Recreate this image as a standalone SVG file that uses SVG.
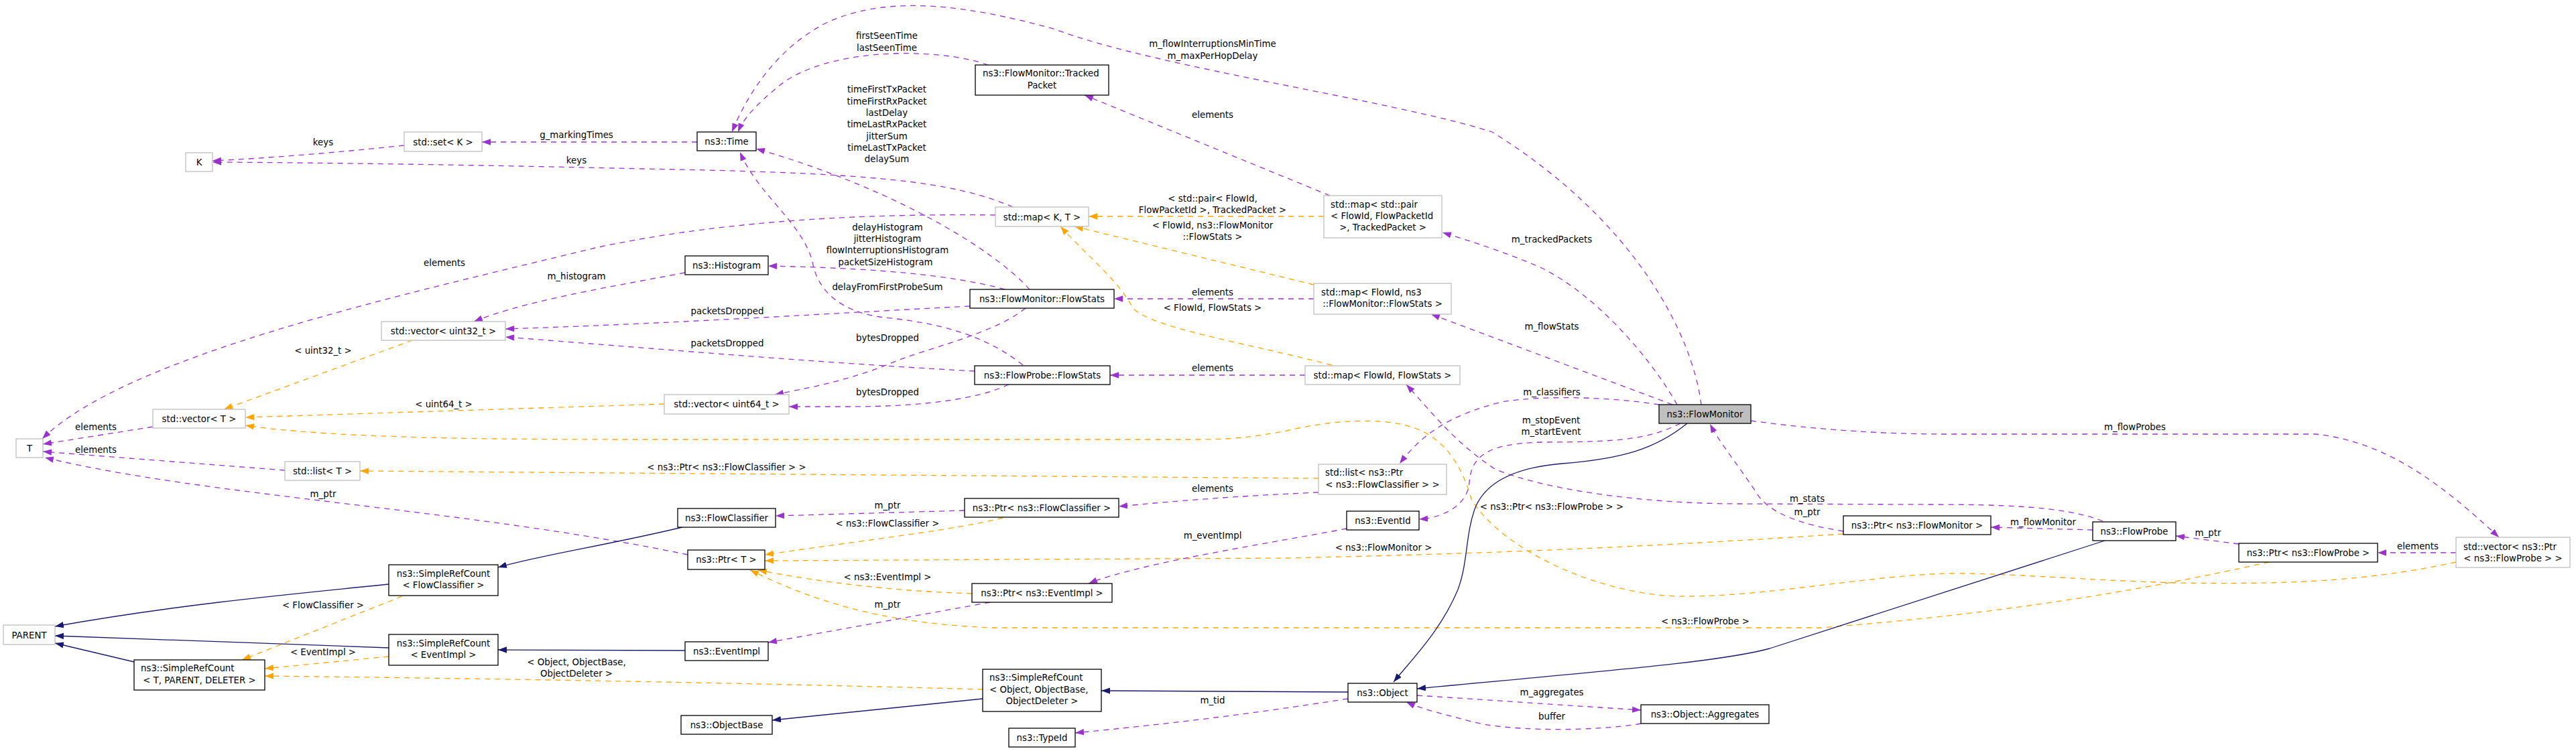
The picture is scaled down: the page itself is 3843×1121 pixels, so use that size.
<svg xmlns="http://www.w3.org/2000/svg" width="3843" height="1121" viewBox="0 0 3843 1121">
<style>
text{font-family:"DejaVu Sans","Liberation Sans",sans-serif;font-size:13.33px;fill:#000}
.node rect{fill:#fff;stroke:#000;stroke-width:1.3}
.node.gr rect{stroke:#bfbfbf}
.node.main rect{fill:#bfbfbf}
.c{text-anchor:middle}
.s{text-anchor:start}
.e{fill:none;stroke-width:1.3}
.u{stroke:#9a32cd;stroke-dasharray:8,7;marker-end:url(#aU)}
.t{stroke:#ffa500;stroke-dasharray:8,7;marker-end:url(#aT)}
.i{stroke:#191970;marker-end:url(#aI)}
.lbl text{text-anchor:middle}
</style>
<defs>
<marker id="aU" markerUnits="userSpaceOnUse" markerWidth="14" markerHeight="10" refX="13" refY="4.7" orient="auto"><path d="M0,0 L13,4.7 L0,9.4 z" fill="#9a32cd"/></marker>
<marker id="aT" markerUnits="userSpaceOnUse" markerWidth="14" markerHeight="10" refX="13" refY="4.7" orient="auto"><path d="M0,0 L13,4.7 L0,9.4 z" fill="#ffa500"/></marker>
<marker id="aI" markerUnits="userSpaceOnUse" markerWidth="14" markerHeight="10" refX="13" refY="4.7" orient="auto"><path d="M0,0 L13,4.7 L0,9.4 z" fill="#191970"/></marker>
</defs>
<rect width="3843" height="1121" fill="#fff"/>

<g id="connectors">
<path class="e u" d="M603,217 C500,228 400,236 317,240"/>
<path class="e u" d="M1040,212 L719,212"/>
<path class="e u" d="M1511,309 C1420,270 1300,258 960,252 C700,246 500,243 317,242"/>
<path class="e u" d="M1485,321 C1250,318 1050,335 888,370 C600,440 190,530 63,655"/>
<path class="e u" d="M1474,97 C1400,70 1230,70 1160,130 C1130,155 1110,175 1101,197"/>
<path class="e u" d="M2538,604 C2525,500 2440,330 2226,197 C2080,150 1720,100 1572,43 C1450,10 1330,-10 1235,33 C1160,70 1115,140 1092,197"/>
<path class="e u" d="M1984,292 L1618,142"/>
<path class="e t" d="M1975,323 L1624,323"/>
<path class="e t" d="M1960,425 L1603,338"/>
<path class="e t" d="M1987,545 C1850,510 1720,490 1690,460 C1670,420 1620,380 1582,338"/>
<path class="e u" d="M1960,446 L1662,446"/>
<path class="e u" d="M1947,560 L1656,560"/>
<path class="e u" d="M1536,432 C1480,370 1330,280 1128,222"/>
<path class="e u" d="M1526,545 C1470,500 1400,482 1320,474 C1250,466 1218,430 1212,390 C1195,330 1130,290 1104,227"/>
<path class="e u" d="M1499,432 C1420,410 1300,400 1146,397"/>
<path class="e u" d="M1022,407 C900,430 780,450 707,480"/>
<path class="e u" d="M1447,457 C1200,470 1000,483 754,491"/>
<path class="e u" d="M1454,554 C1200,540 1000,522 754,503"/>
<path class="e u" d="M1530,460 C1480,500 1380,520 1327,543 C1260,570 1200,580 1156,589"/>
<path class="e u" d="M1505,574 C1460,595 1380,607 1266,607 L1177,607"/>
<path class="e t" d="M615,508 L334,611"/>
<path class="e t" d="M991,603 L366,623"/>
<path class="e t" d="M3664,839 C3520,870 3400,872 3247,870 C3100,866 2960,852 2880,857 C2750,865 2620,892 2500,890 C2380,885 2240,820 2195,745 C2180,690 2150,650 2104,637 C2060,622 1980,628 1920,643 C1870,652 1840,656 1790,656 L960,656 C750,656 500,655 366,635"/>
<path class="e u" d="M425,702 L64,674"/>
<path class="e u" d="M228,637 L64,663"/>
<path class="e u" d="M1026,828 C700,760 300,740 67,683"/>
<path class="e t" d="M1967,714 L537,703"/>
<path class="e u" d="M1967,735 C1850,740 1750,748 1669,756"/>
<path class="e u" d="M1439,762 L1157,770"/>
<path class="e t" d="M1496,773 C1430,790 1300,805 1141,828"/>
<path class="e t" d="M2750,797 C2400,820 2183,827 1920,833 L1141,837"/>
<path class="e t" d="M1450,886 C1330,882 1230,870 1131,851"/>
<path class="e t" d="M3385,839 C3200,880 3000,915 2716,937 L1480,937 C1300,930 1200,890 1119,851"/>
<path class="e u" d="M1477,899 L1146,959"/>
<path class="e u" d="M2009,789 C1900,810 1700,840 1624,871"/>
<path class="e u" d="M2507,632 C2460,655 2420,660 2300,660 C2220,662 2195,680 2192,720 C2190,750 2160,772 2117,775"/>
<path class="e u" d="M2475,604 C2400,592 2300,590 2240,600 C2160,620 2120,650 2088,692"/>
<path class="e u" d="M2495,604 L2135,469"/>
<path class="e u" d="M2502,604 C2460,530 2380,440 2300,400 C2250,378 2200,362 2152,347"/>
<path class="e u" d="M2612,628 C2700,640 2800,648 2900,648 L3455,648 C3560,660 3640,720 3728,802"/>
<path class="e u" d="M3137,778 C3080,755 2980,753 2880,753 L2593,752 C2450,752 2300,730 2230,700 C2170,660 2140,620 2098,574"/>
<path class="e u" d="M2750,793 C2700,785 2640,770 2620,735 C2590,690 2565,660 2551,633"/>
<path class="e u" d="M3122,791 L2970,787"/>
<path class="e u" d="M3340,812 L3246,800"/>
<path class="e u" d="M3664,825 L3547,825"/>
<path class="e i" d="M2517,632 C2470,670 2420,685 2330,692 C2260,698 2215,720 2200,760 C2186,800 2190,840 2175,880 C2150,940 2110,980 2079,1018"/>
<path class="e i" d="M3140,807 L2640,968 C2560,990 2350,1005 2114,1028"/>
<path class="e i" d="M2011,1033 L1643,1031"/>
<path class="e i" d="M1466,1043 L1152,1075"/>
<path class="e t" d="M1466,1029 C1200,1022 900,1015 395,1009"/>
<path class="e i" d="M1018,787 C900,815 800,830 743,847"/>
<path class="e i" d="M1022,971 L743,970"/>
<path class="e i" d="M580,872 C400,890 250,905 82,935"/>
<path class="e i" d="M580,967 L82,949"/>
<path class="e i" d="M200,988 L82,960"/>
<path class="e t" d="M600,890 L361,985"/>
<path class="e t" d="M580,980 L395,998"/>
<path class="e u" d="M2011,1043 C1900,1060 1800,1075 1604,1094"/>
<path class="e u" d="M2114,1038 L2448,1060"/>
<path class="e u" d="M2448,1080 C2380,1092 2250,1092 2195,1077 C2150,1065 2120,1058 2098,1048"/>
<g class="lbl">
<text x="482" y="217">keys</text>
<text x="860" y="206">g_markingTimes</text>
<text x="860" y="244">keys</text>
<text x="663" y="397">elements</text>
<text x="1323" y="58">firstSeenTime</text>
<text x="1323" y="76">lastSeenTime</text>
<text x="1809" y="70">m_flowInterruptionsMinTime</text>
<text x="1809" y="88">m_maxPerHopDelay</text>
<text x="1809" y="176">elements</text>
<text x="1809" y="301">&lt; std::pair&lt; FlowId,</text>
<text x="1809" y="318">FlowPacketId &gt;, TrackedPacket &gt;</text>
<text x="1809" y="341">&lt; FlowId, ns3::FlowMonitor</text>
<text x="1809" y="358">::FlowStats &gt;</text>
<text x="1809" y="464">&lt; FlowId, FlowStats &gt;</text>
<text x="1809" y="441">elements</text>
<text x="1809" y="554">elements</text>
<text x="1323" y="138">timeFirstTxPacket</text>
<text x="1323" y="156">timeFirstRxPacket</text>
<text x="1323" y="173">lastDelay</text>
<text x="1323" y="190">timeLastRxPacket</text>
<text x="1323" y="208">jitterSum</text>
<text x="1323" y="225">timeLastTxPacket</text>
<text x="1323" y="242">delaySum</text>
<text x="1324" y="433">delayFromFirstProbeSum</text>
<text x="1324" y="344">delayHistogram</text>
<text x="1324" y="361">jitterHistogram</text>
<text x="1324" y="378">flowInterruptionsHistogram</text>
<text x="1321" y="396">packetSizeHistogram</text>
<text x="860" y="417">m_histogram</text>
<text x="1085" y="469">packetsDropped</text>
<text x="1085" y="517">packetsDropped</text>
<text x="1324" y="509">bytesDropped</text>
<text x="1324" y="590">bytesDropped</text>
<text x="482" y="528">&lt; uint32_t &gt;</text>
<text x="662" y="608">&lt; uint64_t &gt;</text>
<text x="2315" y="761">&lt; ns3::Ptr&lt; ns3::FlowProbe &gt; &gt;</text>
<text x="143" y="676">elements</text>
<text x="143" y="642">elements</text>
<text x="482" y="742">m_ptr</text>
<text x="1084" y="702">&lt; ns3::Ptr&lt; ns3::FlowClassifier &gt; &gt;</text>
<text x="1809" y="734">elements</text>
<text x="1324" y="759">m_ptr</text>
<text x="1324" y="786">&lt; ns3::FlowClassifier &gt;</text>
<text x="2064" y="822">&lt; ns3::FlowMonitor &gt;</text>
<text x="1324" y="866">&lt; ns3::EventImpl &gt;</text>
<text x="2544" y="932">&lt; ns3::FlowProbe &gt;</text>
<text x="1324" y="907">m_ptr</text>
<text x="1809" y="804">m_eventImpl</text>
<text x="2314" y="632">m_stopEvent</text>
<text x="2314" y="649">m_startEvent</text>
<text x="2315" y="590">m_classifiers</text>
<text x="2315" y="492">m_flowStats</text>
<text x="2315" y="362">m_trackedPackets</text>
<text x="3185" y="642">m_flowProbes</text>
<text x="2696" y="749">m_stats</text>
<text x="2696" y="769">m_ptr</text>
<text x="3048" y="784">m_flowMonitor</text>
<text x="3294" y="800">m_ptr</text>
<text x="3607" y="820">elements</text>
<text x="860" y="993">&lt; Object, ObjectBase,</text>
<text x="860" y="1010">ObjectDeleter &gt;</text>
<text x="482" y="908">&lt; FlowClassifier &gt;</text>
<text x="482" y="978">&lt; EventImpl &gt;</text>
<text x="1809" y="1050">m_tid</text>
<text x="2315" y="1038">m_aggregates</text>
<text x="2315" y="1074">buffer</text>
</g>
</g>

<g id="n_flowmonitor" class="node main"><rect x="2475" y="604" width="137" height="28"/><text class="c" x="2543.5" y="623">ns3::FlowMonitor</text></g>
<g id="n_time" class="node"><rect x="1040" y="197" width="88" height="28"/><text class="c" x="1084" y="216">ns3::Time</text></g>
<g id="n_trackedpacket" class="node"><rect x="1455" y="97" width="199" height="45"/><text class="s" x="1466" y="114">ns3::FlowMonitor::Tracked</text><text class="c" x="1554.5" y="132">Packet</text></g>
<g id="n_mapKT" class="node gr"><rect x="1485" y="309" width="139" height="29"/><text class="c" x="1554.5" y="328.5">std::map&lt; K, T &gt;</text></g>
<g id="n_setK" class="node gr"><rect x="603" y="197" width="116" height="29"/><text class="c" x="661" y="216.5">std::set&lt; K &gt;</text></g>
<g id="n_K" class="node gr"><rect x="277" y="228" width="40" height="28"/><text class="c" x="297" y="247">K</text></g>
<g id="n_T" class="node gr"><rect x="24" y="655" width="40" height="28"/><text class="c" x="44" y="674">T</text></g>
<g id="n_vec32" class="node gr"><rect x="569" y="480" width="185" height="28"/><text class="c" x="661.5" y="499">std::vector&lt; uint32_t &gt;</text></g>
<g id="n_vecT" class="node gr"><rect x="228" y="611" width="138" height="28"/><text class="c" x="297" y="630">std::vector&lt; T &gt;</text></g>
<g id="n_listT" class="node gr"><rect x="425" y="689" width="112" height="28"/><text class="c" x="481" y="708">std::list&lt; T &gt;</text></g>
<g id="n_histogram" class="node"><rect x="1022" y="382" width="124" height="28"/><text class="c" x="1084" y="401">ns3::Histogram</text></g>
<g id="n_fmflowstats" class="node"><rect x="1447" y="432" width="215" height="28"/><text class="c" x="1554.5" y="451">ns3::FlowMonitor::FlowStats</text></g>
<g id="n_fpflowstats" class="node"><rect x="1454" y="546" width="202" height="28"/><text class="c" x="1555" y="565">ns3::FlowProbe::FlowStats</text></g>
<g id="n_vec64" class="node gr"><rect x="991" y="589" width="186" height="29"/><text class="c" x="1084" y="608">std::vector&lt; uint64_t &gt;</text></g>
<g id="n_mappair" class="node gr"><rect x="1975" y="292" width="176" height="63"/><text class="s" x="1985" y="310">std::map&lt; std::pair</text><text class="s" x="1985" y="327">&lt; FlowId, FlowPacketId</text><text class="c" x="2063" y="344">&gt;, TrackedPacket &gt;</text></g>
<g id="n_mapfmfs" class="node gr"><rect x="1960" y="423" width="205" height="46"/><text class="s" x="1971" y="441">std::map&lt; FlowId, ns3</text><text class="c" x="2062.5" y="458">::FlowMonitor::FlowStats &gt;</text></g>
<g id="n_mapfs" class="node gr"><rect x="1947" y="546" width="231" height="28"/><text class="c" x="2062.5" y="565">std::map&lt; FlowId, FlowStats &gt;</text></g>
<g id="n_listptrfc" class="node gr"><rect x="1967" y="693" width="191" height="45"/><text class="s" x="1977" y="710">std::list&lt; ns3::Ptr</text><text class="c" x="2062.5" y="728">&lt; ns3::FlowClassifier &gt; &gt;</text></g>
<g id="n_parent" class="node gr"><rect x="5" y="933" width="77" height="29"/><text class="c" x="43.5" y="952.5">PARENT</text></g>
<g id="n_srcfc" class="node"><rect x="580" y="843" width="163" height="46"/><text class="c" x="661.5" y="861">ns3::SimpleRefCount</text><text class="c" x="661.5" y="878">&lt; FlowClassifier &gt;</text></g>
<g id="n_srcei" class="node"><rect x="580" y="947" width="163" height="46"/><text class="c" x="661.5" y="965">ns3::SimpleRefCount</text><text class="c" x="661.5" y="982">&lt; EventImpl &gt;</text></g>
<g id="n_srctpd" class="node"><rect x="200" y="985" width="195" height="45"/><text class="s" x="210" y="1002">ns3::SimpleRefCount</text><text class="c" x="297.5" y="1020">&lt; T, PARENT, DELETER &gt;</text></g>
<g id="n_flowclassifier" class="node"><rect x="1011" y="759" width="146" height="28"/><text class="c" x="1084" y="778">ns3::FlowClassifier</text></g>
<g id="n_ptrfc" class="node"><rect x="1439" y="744" width="230" height="28"/><text class="c" x="1554" y="763">ns3::Ptr&lt; ns3::FlowClassifier &gt;</text></g>
<g id="n_ptrT" class="node"><rect x="1026" y="821" width="115" height="29"/><text class="c" x="1083.5" y="840">ns3::Ptr&lt; T &gt;</text></g>
<g id="n_ptrei" class="node"><rect x="1450" y="871" width="209" height="28"/><text class="c" x="1554.5" y="890">ns3::Ptr&lt; ns3::EventImpl &gt;</text></g>
<g id="n_eventimpl" class="node"><rect x="1022" y="958" width="124" height="28"/><text class="c" x="1084" y="977">ns3::EventImpl</text></g>
<g id="n_srcobj" class="node"><rect x="1466" y="999" width="177" height="63"/><text class="s" x="1476" y="1016">ns3::SimpleRefCount</text><text class="s" x="1476" y="1034">&lt; Object, ObjectBase,</text><text class="c" x="1554.5" y="1051">ObjectDeleter &gt;</text></g>
<g id="n_objectbase" class="node"><rect x="1016" y="1068" width="136" height="28"/><text class="c" x="1084" y="1087">ns3::ObjectBase</text></g>
<g id="n_typeid" class="node"><rect x="1505" y="1087" width="99" height="28"/><text class="c" x="1554.5" y="1106">ns3::TypeId</text></g>
<g id="n_eventid" class="node"><rect x="2009" y="763" width="108" height="28"/><text class="c" x="2063" y="782">ns3::EventId</text></g>
<g id="n_object" class="node"><rect x="2011" y="1020" width="103" height="28"/><text class="c" x="2062.5" y="1039">ns3::Object</text></g>
<g id="n_aggregates" class="node"><rect x="2448" y="1052" width="191" height="28"/><text class="c" x="2543.5" y="1071">ns3::Object::Aggregates</text></g>
<g id="n_ptrfm" class="node"><rect x="2750" y="770" width="220" height="28"/><text class="c" x="2860" y="789">ns3::Ptr&lt; ns3::FlowMonitor &gt;</text></g>
<g id="n_flowprobe" class="node"><rect x="3122" y="779" width="124" height="28"/><text class="c" x="3184" y="798">ns3::FlowProbe</text></g>
<g id="n_ptrfp" class="node"><rect x="3340" y="811" width="207" height="28"/><text class="c" x="3443.5" y="830">ns3::Ptr&lt; ns3::FlowProbe &gt;</text></g>
<g id="n_vecptrfp" class="node gr"><rect x="3664" y="802" width="170" height="45"/><text class="s" x="3675" y="821">std::vector&lt; ns3::Ptr</text><text class="c" x="3749" y="838">&lt; ns3::FlowProbe &gt; &gt;</text></g>
</svg>
